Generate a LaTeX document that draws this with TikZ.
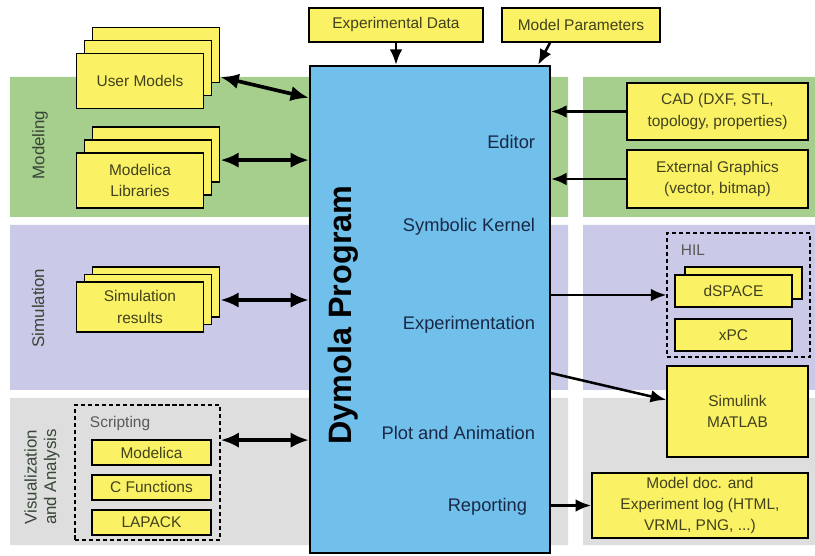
\documentclass[tikz,border=0pt]{standalone}
\usepackage{fontspec}
\setmainfont{Liberation Sans}
\usetikzlibrary{arrows.meta,positioning}
\definecolor{modgreen}{RGB}{166,206,140}
\definecolor{simviolet}{RGB}{202,201,232}
\definecolor{visgray}{RGB}{222,222,222}
\definecolor{boxyellow}{RGB}{250,242,100}
\definecolor{progblue}{RGB}{112,192,235}
\definecolor{boxtext}{RGB}{65,65,30}
\definecolor{progtext}{RGB}{25,40,70}
\definecolor{sidetext}{RGB}{55,70,55}
\begin{document}
\begin{tikzpicture}[x=0.025cm, y=-0.025cm,
  box/.style = {draw, line width=1.3pt, fill=boxyellow, align=center,
    text=boxtext, font=\fontsize{11}{15}\selectfont, inner sep=0pt},
  stackbox/.style = {box, minimum width=3.175cm, minimum height=1.375cm},
  hilbox/.style = {box, minimum width=2.925cm, minimum height=0.8cm},
  scrbox/.style = {box, minimum width=2.975cm, minimum height=0.625cm},
  group/.style = {draw, densely dashed, line width=0.9pt},
  grouplabel/.style = {text=black!65, font=\fontsize{11}{13}\selectfont, anchor=north west},
  side/.style = {rotate=90, align=center, text=sidetext, font=\fontsize{12}{14}\selectfont},
  part/.style = {anchor=east, text=progtext, font=\fontsize{13}{15}\selectfont},
  dbl/.style = {line width=2.6pt, {Latex[length=13pt,width=11pt]}-{Latex[length=13pt,width=11pt]}},
  sgl/.style = {line width=1.8pt, -{Latex[length=11pt,width=9pt]}}]
  \useasboundingbox (0,0) rectangle (815,556);
  \fill[modgreen] (10,77) rectangle (568,217) (583,77) rectangle (815,217);
  \fill[simviolet] (10,225) rectangle (568,390) (583,225) rectangle (815,390);
  \fill[visgray] (10,398) rectangle (568,545) (583,398) rectangle (815,545);
  \node[side] (modeling) at (40,145) {Modeling};
  \node[side] (simulation) at (38,308) {Simulation};
  \node[side] (visual) at (42,477) {Visualization\\and Analysis};
  \node[draw, line width=1.5pt, fill=progblue, minimum width=6cm,
    minimum height=12.175cm] (prog) at (430,309.5) {};
  \node[rotate=90, font=\fontsize{23}{26}\selectfont\bfseries] (title) at (343,315) {Dymola Program};
  \node[part] (editor) at (540,142) {Editor};
  \node[part] (kernel) at (540,227) {Symbolic Kernel};
  \node[part] (experiment) at (540,325) {Experimentation};
  \node[part] (plot) at (540,433) {Plot and Animation};
  \node[part] (reporting) at (532,507) {Reporting};
  \node[box, minimum width=4.35cm, minimum height=0.85cm] (expdata) at (396,25) {Experimental Data};
  \node[box, minimum width=3.95cm, minimum height=0.85cm] (modpar) at (581,25) {Model Parameters};
  \foreach \d in {2,1}
    \node[stackbox] (um\d) at (140+8*\d,81-13*\d) {};
  \node[stackbox] (um) at (140,81) {User Models};
  \foreach \d in {2,1}
    \node[stackbox] (ml\d) at (140+8*\d,180.5-13*\d) {};
  \node[stackbox] (ml) at (140,180.5) {Modelica\\Libraries};
  \foreach \d in {2,1}
    \node[stackbox, minimum height=1.25cm] (sr\d) at (140+8*\d,307-7.5*\d) {};
  \node[stackbox, minimum height=1.25cm] (sr) at (140,307) {Simulation\\results};
  \node[group, minimum width=3.625cm, minimum height=3.375cm] (scr) at (147.5,472.5) {};
  \node[grouplabel] (scrlabel) at (85,411) {Scripting};
  \node[scrbox] (modl) at (151.5,452.5) {Modelica};
  \node[scrbox, below=0.2cm of modl] (cfun) {C Functions};
  \node[scrbox, below=0.2cm of cfun] (lapack) {LAPACK};
  \node[box, minimum width=4.525cm, minimum height=1.425cm] (cad) at (717.5,111.5) {CAD (DXF, STL,\\topology, properties)};
  \node[box, minimum width=4.525cm, minimum height=1.45cm] (extgr) at (717.5,179) {External Graphics\\(vector, bitmap)};
  \node[group, minimum width=3.575cm, minimum height=3.1cm] (hil) at (738.5,295) {};
  \node[grouplabel] (hillabel) at (676,240) {HIL};
  \node[hilbox] (dspace2) at (743.5,283) {};
  \node[hilbox] (dspace) at (733.5,291) {dSPACE};
  \node[hilbox, below=0.25cm of dspace] (xpc) {xPC};
  \node[box, minimum width=3.525cm, minimum height=2.275cm] (simulink) at (737.5,411.5) {Simulink\\MATLAB};
  \node[box, minimum width=5.4cm, minimum height=1.625cm] (doc) at (700,505.5) {Model doc. and\\Experiment log (HTML,\\VRML, PNG, ...)};
  \coordinate (umout) at ([yshift=-0.55cm]um2.east);
  \coordinate (mlout) at ([yshift=-0.14cm]ml2.east);
  \coordinate (srout) at ([yshift=-0.2cm]sr2.east);
  \coordinate (scrout) at ([yshift=0.81cm]scr.east);
  \draw[dbl] (umout) -- ([yshift=-0.825cm]prog.north west);
  \draw[dbl] (mlout) -- (mlout -| prog.west);
  \draw[dbl] (srout) -- (srout -| prog.west);
  \draw[dbl] (scrout) -- (scrout -| prog.west);
  \draw[sgl] (expdata.south) -- (expdata.south |- prog.north);
  \draw[sgl] ([xshift=-0.775cm]modpar.south) -- ([xshift=-0.325cm]prog.north east);
  \draw[sgl] (cad.west) -- (cad.west -| prog.east);
  \draw[sgl] (extgr.west) -- (extgr.west -| prog.east);
  \draw[sgl] (prog.east |- hil.west) -- (hil.west);
  \draw[sgl] ([yshift=-1.59cm]prog.east) -- ([yshift=0.29cm]simulink.west);
  \draw[sgl] (prog.east |- doc.west) -- (doc.west);
\end{tikzpicture}
\end{document}
